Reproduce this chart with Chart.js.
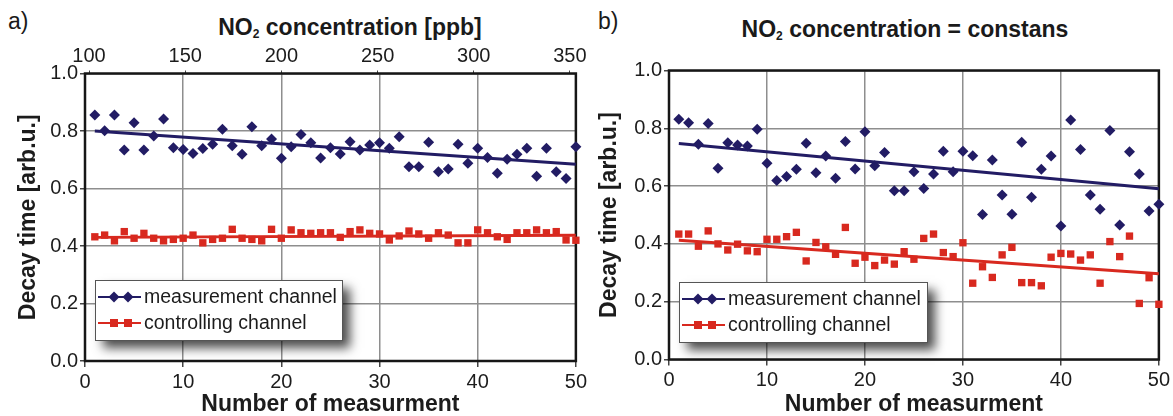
<!DOCTYPE html>
<html>
<head>
<meta charset="utf-8">
<script src="https://cdn.jsdelivr.net/npm/chart.js@4.4.1/dist/chart.umd.min.js"></script>
<style>
  html,body{margin:0;padding:0;background:#fff;}
  body{width:1173px;height:416px;position:relative;overflow:hidden;font-family:"Liberation Sans",Arial,sans-serif;}
  .cv{position:absolute;top:0;}
  .lbl{position:absolute;color:#1a1a1a;white-space:nowrap;}
  .ttl{position:absolute;font-weight:bold;font-size:23px;color:#1a1a1a;white-space:nowrap;transform:translateX(-50%);}
  .ttl sub{font-size:12px;vertical-align:-3px;}
</style>
</head>
<body>
<div class="lbl" style="left:8px;top:8px;font-size:23px;">a)</div>
<div class="lbl" style="left:598px;top:8px;font-size:23px;">b)</div>
<div class="ttl" style="left:350px;top:14px;">NO<sub>2</sub> concentration [ppb]</div>
<div class="ttl" style="left:905px;top:16px;">NO<sub>2</sub> concentration = constans</div>
<canvas id="ca" class="cv" style="left:0px" width="590" height="416"></canvas>
<canvas id="cb" class="cv" style="left:590px" width="583" height="416"></canvas>
<script>
// ---- data ----
const measurementNo = [1,2,3,4,5,6,7,8,9,10,11,12,13,14,15,16,17,18,19,20,21,22,23,24,25,26,27,28,29,30,31,32,33,34,35,36,37,38,39,40,41,42,43,44,45,46,47,48,49,50];
const concentrationTicks = [100,150,200,250,300,350];
const yTicks = [0.0,0.2,0.4,0.6,0.8,1.0];
const xTicks = [0,10,20,30,40,50];

const measA = [0.856,0.801,0.856,0.734,0.829,0.734,0.783,0.842,0.742,0.736,
               0.722,0.739,0.754,0.806,0.749,0.719,0.815,0.749,0.772,0.705,
               0.745,0.788,0.759,0.706,0.742,0.720,0.763,0.734,0.751,0.759,
               0.740,0.780,0.676,0.676,0.761,0.658,0.668,0.754,0.688,0.740,
               0.708,0.653,0.702,0.719,0.740,0.643,0.740,0.658,0.635,0.745];
const ctrlA = [0.432,0.438,0.418,0.450,0.427,0.444,0.427,0.418,0.423,0.427,
               0.438,0.411,0.423,0.427,0.458,0.427,0.423,0.418,0.458,0.427,
               0.456,0.446,0.444,0.446,0.446,0.430,0.450,0.456,0.444,0.442,
               0.421,0.435,0.452,0.442,0.427,0.446,0.438,0.411,0.411,0.456,
               0.446,0.432,0.423,0.446,0.446,0.456,0.446,0.450,0.421,0.420];
const measB = [0.831,0.819,0.745,0.817,0.662,0.750,0.742,0.739,0.797,0.679,
               0.619,0.633,0.658,0.748,0.646,0.704,0.627,0.754,0.659,0.788,
               0.670,0.716,0.584,0.584,0.650,0.592,0.642,0.721,0.650,0.721,
               0.705,0.502,0.690,0.569,0.503,0.752,0.561,0.658,0.704,0.462,
               0.829,0.727,0.569,0.520,0.792,0.465,0.719,0.642,0.514,0.537];
const ctrlB = [0.434,0.434,0.392,0.445,0.400,0.379,0.399,0.376,0.373,0.416,
               0.416,0.425,0.440,0.341,0.405,0.390,0.364,0.457,0.333,0.354,
               0.325,0.344,0.330,0.373,0.347,0.419,0.434,0.370,0.356,0.404,
               0.264,0.321,0.284,0.362,0.388,0.266,0.266,0.255,0.354,0.367,
               0.365,0.344,0.362,0.264,0.408,0.356,0.427,0.194,0.283,0.191];
const trendX = [1, 50];
const trendMeasA = [0.800, 0.684];
const trendCtrlA = [0.430, 0.437];
const trendMeasB = [0.747, 0.591];
const trendCtrlB = [0.413, 0.297];
const legendLabels = ['measurement channel', 'controlling channel'];

// ---- styles ----
const BLUE = '#221c64';
const RED = '#d8291f';
const GRID = '#8e8e8e';
const TXT = '#1c1c1c';
const tickFont = {family:"'Liberation Sans',Arial,sans-serif", size:20};
const titleFont = {family:"'Liberation Sans',Arial,sans-serif", size:23, weight:'bold', lineHeight:1};

function pts(xs, ys){ return xs.map((x,i)=>({x:x, y:ys[i]})); }

function datasets(meas, ctrl, tm, tc){
  return [
    {type:'scatter', label:legendLabels[0], data:pts(measurementNo, meas), pointStyle:'rectRot', pointRadius:5.5, backgroundColor:BLUE, borderColor:BLUE, borderWidth:0, clip:false, order:1},
    {type:'scatter', label:legendLabels[1], data:pts(measurementNo, ctrl), pointStyle:'rect', pointRadius:5.2, backgroundColor:RED, borderColor:RED, borderWidth:0, clip:false, order:2},
    {type:'line', data:pts(trendX, tm), borderColor:BLUE, borderWidth:3, pointRadius:0, fill:false, order:0},
    {type:'line', data:pts(trendX, tc), borderColor:RED, borderWidth:3, pointRadius:0, fill:false, order:0}
  ];
}

const framePlugin = {
  id:'frame',
  beforeDatasetsDraw(chart){
    const {ctx, chartArea:a} = chart;
    ctx.save();
    ctx.strokeStyle = '#161616';
    ctx.lineWidth = 2.5;
    ctx.strokeRect(a.left, a.top, a.right-a.left, a.bottom-a.top);
    ctx.restore();
  }
};

const legendPlugin = {
  id:'boxLegend',
  afterDraw(chart, args, o){
    const ctx = chart.ctx;
    ctx.save();
    ctx.shadowColor = 'rgba(0,0,0,0.7)';
    ctx.shadowBlur = 10;
    ctx.shadowOffsetX = 8;
    ctx.shadowOffsetY = 8;
    ctx.fillStyle = '#fff';
    ctx.fillRect(o.x, o.y, o.w, o.h);
    ctx.restore();
    ctx.save();
    ctx.strokeStyle = '#555';
    ctx.lineWidth = 1;
    ctx.strokeRect(o.x+0.5, o.y+0.5, o.w, o.h);
    const rows = [{c:BLUE, s:'d', t:legendLabels[0], y:o.y+17}, {c:RED, s:'s', t:legendLabels[1], y:o.y+43}];
    ctx.font = "19.5px 'Liberation Sans',Arial,sans-serif";
    ctx.textBaseline = 'middle';
    rows.forEach(r=>{
      ctx.strokeStyle = r.c; ctx.fillStyle = r.c; ctx.lineWidth = 2;
      ctx.beginPath(); ctx.moveTo(o.x+3, r.y); ctx.lineTo(o.x+46, r.y); ctx.stroke();
      [o.x+19, o.x+33].forEach(cx=>{
        ctx.beginPath();
        if (r.s==='d'){ ctx.moveTo(cx, r.y-5.5); ctx.lineTo(cx+5.5, r.y); ctx.lineTo(cx, r.y+5.5); ctx.lineTo(cx-5.5, r.y); ctx.closePath(); }
        else { ctx.rect(cx-4, r.y-4, 8, 8); }
        ctx.fill();
      });
      ctx.fillStyle = TXT;
      ctx.fillText(r.t, o.x+49, r.y+1);
    });
    ctx.restore();
  }
};

function yScale(width, titlePad){
  return {
    min:0, max:1,
    afterBuildTicks: s => { s.ticks = yTicks.map(v=>({value:v})); },
    ticks:{font:tickFont, color:TXT, padding:2, callback:v=>Number(v).toFixed(1)},
    grid:{color:GRID, lineWidth:1.5, tickLength:5, tickColor:'#444'},
    border:{display:false},
    title:{display:true, text:'Decay time [arb.u.]', font:titleFont, color:TXT, padding:{top:titlePad, bottom:0}},
    afterFit: s => { s.width = width; }
  };
}
function xScale(height){
  return {
    type:'linear', position:'bottom', min:0, max:50,
    afterBuildTicks: s => { s.ticks = xTicks.map(v=>({value:v})); },
    ticks:{font:tickFont, color:TXT, padding:3, maxRotation:0},
    grid:{color:GRID, lineWidth:1.5, tickLength:6, tickColor:'#444'},
    border:{display:false},
    title:{display:true, text:'Number of measurment', font:titleFont, color:TXT, padding:{top:0, bottom:0}},
    afterFit: s => { s.height = height; }
  };
}

const common = {
  responsive:false, animation:false, devicePixelRatio:1,
  plugins:{legend:{display:false}, tooltip:{enabled:false}, title:{display:false}}
};

new Chart(document.getElementById('ca'), {
  data:{datasets:datasets(measA, ctrlA, trendMeasA, trendCtrlA)},
  plugins:[framePlugin, legendPlugin],
  options:Object.assign({}, common, {
    layout:{padding:{left:0, right:12, top:0, bottom:0}},
    plugins:Object.assign({}, common.plugins, {boxLegend:{x:95, y:280, w:247, h:60}}),
    scales:{
      x:xScale(55),
      x2:{type:'linear', position:'top', min:97.9, max:353.1,
          afterBuildTicks: s => { s.ticks = concentrationTicks.map(v=>({value:v})); },
          ticks:{font:tickFont, color:TXT, padding:2, maxRotation:0},
          grid:{drawOnChartArea:false, tickLength:3, color:'#444'},
          border:{display:false},
          afterFit: s => { s.height = 73.5; }},
      y:yScale(85, 17)
    }
  })
});

new Chart(document.getElementById('cb'), {
  data:{datasets:datasets(measB, ctrlB, trendMeasB, trendCtrlB)},
  plugins:[framePlugin, legendPlugin],
  options:Object.assign({}, common, {
    layout:{padding:{left:0, right:8, top:70.5, bottom:0}},
    plugins:Object.assign({}, common.plugins, {boxLegend:{x:89, y:282, w:248, h:60}}),
    scales:{
      x:xScale(56.5),
      y:yScale(79, 8)
    }
  })
});
</script>
</body>
</html>
